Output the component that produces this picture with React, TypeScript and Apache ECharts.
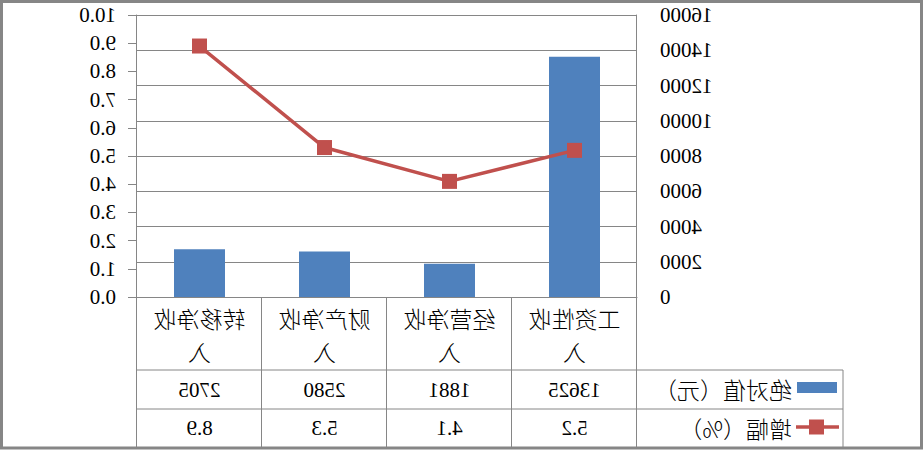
import React, { useEffect, useRef } from "react";
import * as echarts from "echarts";

const categories = ["工资性收入", "经营净收入", "财产净收入", "转移净收入"];
const absoluteValues = [13625, 1881, 2580, 2705];
const growthValues = [5.2, 4.1, 5.3, 8.9];
const absoluteName = "绝对值（元）";
const growthName = "增幅（%）";
const absoluteTableLabels = ["13625", "1881", "2580", "2705"];
const growthTableLabels = ["5.2", "4.1", "5.3", "8.9"];

const GRAY = "#868686";
const BLUE = "#4F81BD";
const RED = "#C0504D";
const SERIF = "'Liberation Serif', 'Times New Roman', serif";
const CJK = "'Noto Sans CJK SC', sans-serif";

export default function App() {
  const ref = useRef<HTMLDivElement>(null);
  useEffect(() => {
    document.body.style.margin = "0";
    const chart = echarts.init(ref.current!, null, { renderer: "svg" });
    const gridTop = 15;
    const gridBottomY = 297;
    const gridLeft = 286;
    const gridRightX = 786;
    chart.setOption({
      animation: false,
      backgroundColor: "#fff",
      grid: { left: gridLeft, right: 923 - gridRightX, top: gridTop, bottom: 450 - gridBottomY },
      xAxis: {
        type: "category",
        data: categories,
        boundaryGap: true,
        axisLine: { show: true, lineStyle: { color: GRAY, width: 1 } },
        axisTick: { show: true, length: 151, interval: 0, lineStyle: { color: GRAY, width: 1 } },
        axisLabel: {
          interval: 0,
          fontSize: 23,
          fontFamily: CJK,
          fontWeight: 300,
          color: "#000",
          width: 110,
          overflow: "break",
          lineHeight: 33,
          margin: 4,
        },
      },
      yAxis: [
        {
          type: "value",
          min: 0,
          max: 16000,
          interval: 2000,
          axisLine: { show: true, lineStyle: { color: GRAY, width: 1 } },
          axisTick: { show: false },
          splitLine: { show: true, lineStyle: { color: GRAY, width: 1 } },
          axisLabel: {
            fontSize: 21,
            fontFamily: SERIF,
            color: "#000",
            margin: 23,
            formatter: (v: number) => String(v),
          },
        },
        {
          type: "value",
          min: 0,
          max: 10,
          interval: 1,
          position: "right",
          axisLine: { show: true, lineStyle: { color: GRAY, width: 1 } },
          axisTick: { show: true, length: 9, lineStyle: { color: GRAY, width: 1 } },
          splitLine: { show: false },
          axisLabel: {
            fontSize: 21,
            fontFamily: SERIF,
            color: "#000",
            margin: 21,
            formatter: (v: number) => v.toFixed(1),
          },
        },
      ],
      series: [
        {
          name: absoluteName,
          type: "bar",
          data: absoluteValues,
          barWidth: 51,
          itemStyle: { color: BLUE },
          yAxisIndex: 0,
        },
        {
          name: growthName,
          type: "line",
          data: growthValues,
          yAxisIndex: 1,
          symbol: "rect",
          symbolSize: 15,
          lineStyle: { color: RED, width: 3.5 },
          itemStyle: { color: RED },
          z: 5,
        },
      ],
    });

    const legendLeft = 80;
    const row1Y = 370;
    const row2Y = 409;
    const bottomY = 448;
    const graphic: any[] = [
      {
        type: "rect",
        shape: { x: 1.5, y: 1.5, width: 920, height: 446.5 },
        style: { fill: "none", stroke: GRAY, lineWidth: 3 },
        silent: true,
      },
      { type: "line", shape: { x1: legendLeft, y1: row1Y, x2: gridRightX, y2: row1Y }, style: { stroke: GRAY, lineWidth: 1 } },
      { type: "line", shape: { x1: legendLeft, y1: row2Y, x2: gridRightX, y2: row2Y }, style: { stroke: GRAY, lineWidth: 1 } },
      { type: "line", shape: { x1: legendLeft, y1: row1Y, x2: legendLeft, y2: bottomY }, style: { stroke: GRAY, lineWidth: 1 } },
      { type: "rect", shape: { x: 86, y: 382, width: 40, height: 11 }, style: { fill: BLUE } },
      { type: "line", shape: { x1: 84, y1: 427, x2: 127, y2: 427 }, style: { stroke: RED, lineWidth: 3.5 } },
      { type: "rect", shape: { x: 99, y: 419.5, width: 15, height: 15 }, style: { fill: RED } },
      {
        type: "text",
        x: 131,
        y: 389,
        style: { text: absoluteName, font: `300 23px ${CJK}`, fill: "#000", verticalAlign: "middle", align: "left" },
      },
      {
        type: "text",
        x: 131,
        y: 428,
        style: { text: growthName, font: `300 23px ${CJK}`, fill: "#000", verticalAlign: "middle", align: "left" },
      },
    ];
    categories.forEach((c, i) => {
      const cx = chart.convertToPixel({ xAxisIndex: 0 }, c) as number;
      graphic.push({
        type: "text",
        x: cx,
        y: 390,
        style: { text: absoluteTableLabels[i], font: `21px ${SERIF}`, fill: "#000", align: "center", verticalAlign: "middle" },
      });
      graphic.push({
        type: "text",
        x: cx,
        y: 428,
        style: { text: growthTableLabels[i], font: `21px ${SERIF}`, fill: "#000", align: "center", verticalAlign: "middle" },
      });
    });
    chart.setOption({ graphic });
    return () => chart.dispose();
  }, []);
  return (
    <div
      ref={ref}
      style={{
        position: "absolute",
        left: 0,
        top: 0,
        width: 923,
        height: 450,
        transform: "scaleX(-1)",
      }}
    />
  );
}
